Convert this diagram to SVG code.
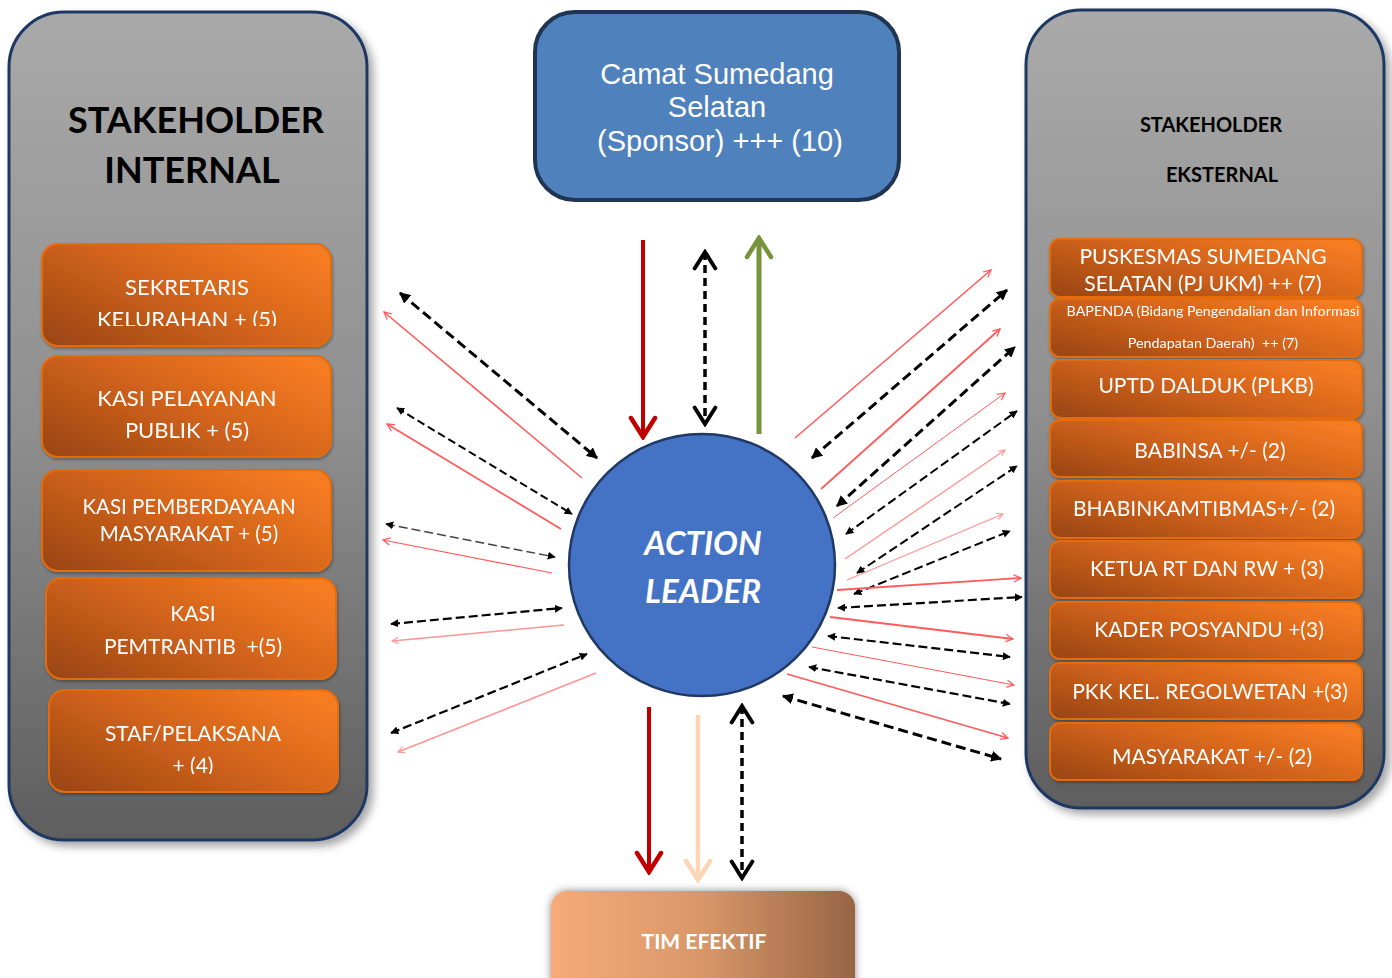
<svg xmlns="http://www.w3.org/2000/svg" width="1392" height="978" viewBox="0 0 1392 978">
<defs>
<style>
.panel{stroke:#1f3864;stroke-width:3;}
.obox{fill:url(#og);stroke:#e46c0a;stroke-width:2;}
.ot{font-family:Lato,"Open Sans",sans-serif;fill:#fff;text-anchor:middle;}
.title{font-family:Lato,"Open Sans",sans-serif;font-weight:bold;fill:#000;text-anchor:middle;}
.bk{stroke:#000;fill:none;}
.rd{stroke:#ff5b5b;fill:none;}
.rl{stroke:#ff9494;fill:none;}
</style>
<linearGradient id="pg" x1="0" y1="0" x2="0" y2="1">
<stop offset="0" stop-color="#a9a9a9"/><stop offset="0.5" stop-color="#8f8f8f"/><stop offset="1" stop-color="#5e5e5e"/>
</linearGradient>
<linearGradient id="og" x1="0" y1="0.9" x2="1" y2="0.2">
<stop offset="0" stop-color="#9c4712"/><stop offset="0.5" stop-color="#d0621c"/><stop offset="1" stop-color="#f67c22"/>
</linearGradient>
<linearGradient id="tg" x1="0" y1="0" x2="1" y2="0">
<stop offset="0" stop-color="#f6aa78"/><stop offset="0.5" stop-color="#d8976a"/><stop offset="1" stop-color="#986443"/>
</linearGradient>
<filter id="sh" x="-10%" y="-10%" width="125%" height="125%">
<feDropShadow dx="5" dy="5" stdDeviation="4" flood-color="#000" flood-opacity="0.35"/>
</filter>
<filter id="glow" x="-10%" y="-20%" width="120%" height="140%">
<feDropShadow dx="0" dy="0" stdDeviation="4" flood-color="#000" flood-opacity="0.45"/>
</filter>
<filter id="bsh" x="-5%" y="-10%" width="110%" height="130%">
<feDropShadow dx="1" dy="2" stdDeviation="1.5" flood-color="#000" flood-opacity="0.3"/>
</filter>
<marker id="ab" viewBox="0 0 10 10" refX="9" refY="5" markerWidth="11" markerHeight="11" markerUnits="userSpaceOnUse" orient="auto-start-reverse">
<path d="M0,0 L10,5 L0,10 Z" fill="#000"/>
</marker>
<marker id="abs" viewBox="0 0 10 10" refX="9" refY="5" markerWidth="8" markerHeight="8" markerUnits="userSpaceOnUse" orient="auto-start-reverse">
<path d="M0,0 L10,5 L0,10 Z" fill="#000"/>
</marker>
<marker id="ar" viewBox="0 0 10 10" refX="9" refY="5" markerWidth="9" markerHeight="9" markerUnits="userSpaceOnUse" orient="auto">
<path d="M1,1 L9,5 L1,9" fill="none" stroke="#ff5b5b" stroke-width="1.4"/>
</marker>
<marker id="arl" viewBox="0 0 10 10" refX="9" refY="5" markerWidth="8" markerHeight="8" markerUnits="userSpaceOnUse" orient="auto">
<path d="M1,1 L9,5 L1,9" fill="none" stroke="#ff9494" stroke-width="1.4"/>
</marker>
<marker id="vr" viewBox="0 0 30 30" refX="27" refY="15" markerWidth="30" markerHeight="30" markerUnits="userSpaceOnUse" orient="auto">
<path d="M8,3 L27,15 L8,27" fill="none" stroke="#c00000" stroke-width="4.5" stroke-linecap="round" stroke-linejoin="miter"/>
</marker>
<marker id="vp" viewBox="0 0 30 30" refX="27" refY="15" markerWidth="30" markerHeight="30" markerUnits="userSpaceOnUse" orient="auto">
<path d="M8,3 L27,15 L8,27" fill="none" stroke="#fbd5b5" stroke-width="4.5" stroke-linecap="round"/>
</marker>
<marker id="vg" viewBox="0 0 30 30" refX="27" refY="15" markerWidth="30" markerHeight="30" markerUnits="userSpaceOnUse" orient="auto">
<path d="M8,3 L27,15 L8,27" fill="none" stroke="#77933c" stroke-width="4.5" stroke-linecap="round"/>
</marker>
<marker id="vk" viewBox="0 0 30 30" refX="27" refY="15" markerWidth="26" markerHeight="26" markerUnits="userSpaceOnUse" orient="auto-start-reverse">
<path d="M8,3 L27,15 L8,27" fill="none" stroke="#000" stroke-width="4.5" stroke-linecap="round"/>
</marker>
<clipPath id="c1"><rect x="40" y="240" width="300" height="86"/></clipPath>
<clipPath id="c5"><rect x="40" y="690" width="300" height="84"/></clipPath>
</defs>

<rect width="1392" height="978" fill="#fff"/>

<g id="internal">
<rect class="panel" x="9" y="12" width="358" height="828" rx="55" fill="url(#pg)" filter="url(#sh)"/>
<text class="title" x="196" y="133" font-size="36">STAKEHOLDER</text>
<text class="title" x="192" y="183" font-size="36">INTERNAL</text>
</g>

<g id="sekretaris" filter="url(#bsh)">
<rect class="obox" x="42" y="244" width="289" height="102" rx="16"/>
<text class="ot" x="187" y="295" font-size="22">SEKRETARIS</text>
<text class="ot" x="187" y="327" font-size="22" clip-path="url(#c1)">KELURAHAN + (5)</text>
</g>
<g id="kasi-pelayanan" filter="url(#bsh)">
<rect class="obox" x="42" y="356" width="289" height="101" rx="16"/>
<text class="ot" x="187" y="406" font-size="22">KASI PELAYANAN</text>
<text class="ot" x="187" y="438" font-size="22">PUBLIK + (5)</text>
</g>
<g id="kasi-pemberdayaan" filter="url(#bsh)">
<rect class="obox" x="42" y="470" width="289" height="101" rx="16"/>
<text class="ot" x="189" y="514" font-size="20.5">KASI PEMBERDAYAAN</text>
<text class="ot" x="189" y="541" font-size="20.5">MASYARAKAT + (5)</text>
</g>
<g id="kasi-pemtrantib" filter="url(#bsh)">
<rect class="obox" x="46" y="578" width="290" height="101" rx="16"/>
<text class="ot" x="193" y="621" font-size="21">KASI</text>
<text class="ot" x="193" y="654" font-size="21" xml:space="preserve">PEMTRANTIB  +(5)</text>
</g>
<g id="staf" filter="url(#bsh)">
<rect class="obox" x="49" y="690" width="289" height="102" rx="16"/>
<text class="ot" x="193" y="741" font-size="21">STAF/PELAKSANA</text>
<text class="ot" x="193" y="773" font-size="21" clip-path="url(#c5)">+ (4)</text>
</g>

<g id="camat">
<rect x="535" y="12" width="364" height="188" rx="40" fill="#4f81bd" stroke="#1f3552" stroke-width="4"/>
<g font-family="'Liberation Sans',Arial,sans-serif" font-size="29" fill="#fff" text-anchor="middle">
<text x="717" y="84">Camat Sumedang</text>
<text x="717" y="117">Selatan</text>
<text x="720" y="151">(Sponsor) +++ (10)</text>
</g>
</g>

<g id="external">
<rect class="panel" x="1026" y="10" width="358" height="798" rx="55" fill="url(#pg)" filter="url(#sh)"/>
<text class="title" x="1211" y="132" font-size="20">STAKEHOLDER</text>
<text class="title" x="1222" y="182" font-size="20">EKSTERNAL</text>
</g>

<g id="puskesmas" filter="url(#bsh)">
<rect class="obox" x="1050" y="239" width="312" height="58" rx="10"/>
<text class="ot" x="1203" y="264" font-size="21">PUSKESMAS SUMEDANG</text>
<text class="ot" x="1203" y="291" font-size="21">SELATAN (PJ UKM) ++ (7)</text>
</g>
<g id="bapenda" filter="url(#bsh)">
<rect class="obox" x="1050" y="299" width="312" height="58" rx="10"/>
<text class="ot" x="1213" y="316" font-size="14.3">BAPENDA (Bidang Pengendalian dan Informasi</text>
<text class="ot" x="1213" y="348" font-size="14.3" xml:space="preserve">Pendapatan Daerah)  ++ (7)</text>
</g>
<g id="uptd" filter="url(#bsh)">
<rect class="obox" x="1051" y="360" width="311" height="58" rx="10"/>
<text class="ot" x="1206" y="393" font-size="21">UPTD DALDUK (PLKB)</text>
</g>
<g id="babinsa" filter="url(#bsh)">
<rect class="obox" x="1050" y="420" width="312" height="57" rx="10"/>
<text class="ot" x="1210" y="458" font-size="21">BABINSA +/- (2)</text>
</g>
<g id="bhabinkamtibmas" filter="url(#bsh)">
<rect class="obox" x="1050" y="481" width="312" height="57" rx="10"/>
<text class="ot" x="1204" y="516" font-size="21">BHABINKAMTIBMAS+/- (2)</text>
</g>
<g id="ketua-rt" filter="url(#bsh)">
<rect class="obox" x="1050" y="541" width="312" height="57" rx="10"/>
<text class="ot" x="1207" y="576" font-size="21">KETUA RT DAN RW + (3)</text>
</g>
<g id="kader" filter="url(#bsh)">
<rect class="obox" x="1050" y="602" width="312" height="57" rx="10"/>
<text class="ot" x="1209" y="637" font-size="21">KADER POSYANDU +(3)</text>
</g>
<g id="pkk" filter="url(#bsh)">
<rect class="obox" x="1050" y="663" width="312" height="56" rx="10"/>
<text class="ot" x="1210" y="699" font-size="21">PKK KEL. REGOLWETAN +(3)</text>
</g>
<g id="masyarakat" filter="url(#bsh)">
<rect class="obox" x="1050" y="723" width="312" height="57" rx="10"/>
<text class="ot" x="1212" y="764" font-size="21">MASYARAKAT +/- (2)</text>
</g>

<g id="tim-efektif">
<rect x="551" y="891" width="304" height="110" rx="16" fill="url(#tg)" filter="url(#glow)"/>
<text x="704" y="949" font-family="Lato,'Open Sans',sans-serif" font-weight="bold" font-size="21" fill="#fff" text-anchor="middle">TIM EFEKTIF</text>
</g>

<g id="connectors">
<line x1="643" y1="240" x2="643" y2="437" stroke="#c00000" stroke-width="4" marker-end="url(#vr)"/>
<line x1="705" y1="252" x2="705" y2="424" stroke="#000" stroke-width="3.5" stroke-dasharray="8,5" marker-start="url(#vk)" marker-end="url(#vk)"/>
<line x1="759" y1="434" x2="759" y2="238" stroke="#77933c" stroke-width="5" marker-end="url(#vg)"/>
<line x1="649" y1="707" x2="649" y2="872" stroke="#c00000" stroke-width="4" marker-end="url(#vr)"/>
<line x1="698" y1="715" x2="698" y2="880" stroke="#fbd5b5" stroke-width="4.5" marker-end="url(#vp)"/>
<line x1="742" y1="706" x2="742" y2="878" stroke="#000" stroke-width="3.5" stroke-dasharray="8,5" marker-start="url(#vk)" marker-end="url(#vk)"/>
<line class="bk" x1="400" y1="293" x2="597" y2="458" stroke-width="3" stroke-dasharray="10,5" marker-start="url(#ab)" marker-end="url(#ab)"/>
<line class="rd" x1="582" y1="478" x2="384" y2="312" stroke-width="1.6" marker-end="url(#ar)"/>
<line class="bk" x1="397" y1="408" x2="572" y2="514" stroke-width="2" stroke-dasharray="8,4" marker-start="url(#abs)" marker-end="url(#abs)"/>
<line class="rd" x1="561" y1="529" x2="387" y2="424" stroke-width="1.8" marker-end="url(#ar)"/>
<line x1="386" y1="524" x2="555" y2="557" stroke="#444" stroke-width="1.5" stroke-dasharray="9,4" marker-start="url(#abs)" marker-end="url(#abs)"/>
<line class="rd" x1="552" y1="573" x2="383" y2="540" stroke-width="1.2" marker-end="url(#ar)"/>
<line class="bk" x1="391" y1="624" x2="562" y2="608" stroke-width="2.2" stroke-dasharray="9,4" marker-start="url(#abs)" marker-end="url(#abs)"/>
<line class="rl" x1="564" y1="625" x2="392" y2="641" stroke-width="1.4" marker-end="url(#arl)"/>
<line class="bk" x1="391" y1="733" x2="587" y2="654" stroke-width="2.2" stroke-dasharray="9,4" marker-start="url(#abs)" marker-end="url(#abs)"/>
<line class="rl" x1="596" y1="673" x2="398" y2="752" stroke-width="1.6" marker-end="url(#arl)"/>
<line class="rd" x1="795" y1="438" x2="991" y2="270" stroke-width="1.6" marker-end="url(#ar)"/>
<line class="bk" x1="812" y1="458" x2="1007" y2="290" stroke-width="3" stroke-dasharray="10,5" marker-start="url(#ab)" marker-end="url(#ab)"/>
<line class="rd" x1="821" y1="489" x2="1000" y2="329" stroke-width="1.8" marker-end="url(#ar)"/>
<line class="bk" x1="837" y1="506" x2="1015" y2="347" stroke-width="3" stroke-dasharray="10,5" marker-start="url(#ab)" marker-end="url(#ab)"/>
<line class="rd" x1="833" y1="518" x2="1005" y2="393" stroke-width="1" marker-end="url(#ar)"/>
<line class="bk" x1="846" y1="534" x2="1017" y2="411" stroke-width="2" stroke-dasharray="9,4" marker-start="url(#abs)" marker-end="url(#abs)"/>
<line class="rl" x1="845" y1="559" x2="1005" y2="450" stroke-width="1.4" marker-end="url(#arl)"/>
<line class="bk" x1="857" y1="573" x2="1017" y2="466" stroke-width="2" stroke-dasharray="9,4" marker-start="url(#abs)" marker-end="url(#abs)"/>
<line class="rl" x1="847" y1="580" x2="1003" y2="514" stroke-width="1.2" marker-end="url(#arl)"/>
<line class="bk" x1="854" y1="594" x2="1010" y2="531" stroke-width="2" stroke-dasharray="9,4" marker-start="url(#abs)" marker-end="url(#abs)"/>
<line class="rd" x1="837" y1="590" x2="1021" y2="578" stroke-width="1.8" marker-end="url(#ar)"/>
<line class="bk" x1="838" y1="608" x2="1022" y2="597" stroke-width="2.2" stroke-dasharray="9,4" marker-start="url(#abs)" marker-end="url(#abs)"/>
<line class="rd" x1="830" y1="617" x2="1013" y2="639" stroke-width="1.8" marker-end="url(#ar)"/>
<line class="bk" x1="828" y1="636" x2="1010" y2="657" stroke-width="2.2" stroke-dasharray="9,4" marker-start="url(#abs)" marker-end="url(#abs)"/>
<line class="rd" x1="812" y1="647" x2="1014" y2="685" stroke-width="1" marker-end="url(#ar)"/>
<line class="bk" x1="809" y1="667" x2="1010" y2="704" stroke-width="2.2" stroke-dasharray="9,4" marker-start="url(#abs)" marker-end="url(#abs)"/>
<line class="rd" x1="787" y1="674" x2="1008" y2="738" stroke-width="1.8" marker-end="url(#ar)"/>
<line class="bk" x1="783" y1="696" x2="1001" y2="759" stroke-width="3" stroke-dasharray="10,5" marker-start="url(#ab)" marker-end="url(#ab)"/>
</g>

<g id="action-leader">
<ellipse cx="702" cy="565" rx="133" ry="131" fill="#4472c4" stroke="#1f3864" stroke-width="2.5"/>
<text x="703" y="555" font-family="Lato,'Open Sans',sans-serif" font-weight="bold" font-style="italic" font-size="33" fill="#fff" text-anchor="middle">ACTION</text>
<text x="703" y="603" font-family="Lato,'Open Sans',sans-serif" font-weight="bold" font-style="italic" font-size="33" fill="#fff" text-anchor="middle">LEADER</text>
</g>
</svg>
